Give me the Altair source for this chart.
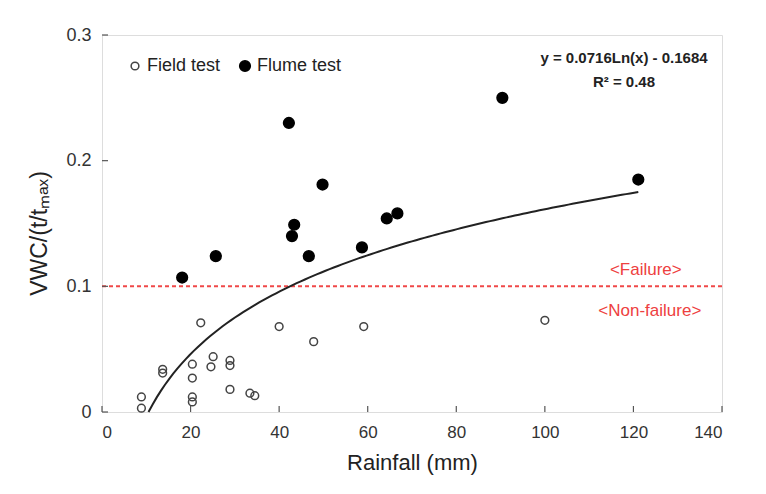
import altair as alt
import pandas as pd
import numpy as np

# ---- data ----
field_x = [8.9, 8.9, 13.7, 13.7, 20.4, 20.4, 20.4, 20.4, 22.3, 24.6, 25.1, 28.9, 28.9, 28.9, 33.4, 34.5, 40.0, 47.8, 59.1, 100.0]
field_y = [0.012, 0.003, 0.034, 0.031, 0.038, 0.027, 0.012, 0.008, 0.071, 0.036, 0.044, 0.041, 0.037, 0.018, 0.015, 0.013, 0.068, 0.056, 0.068, 0.073]
flume_x = [18.1, 25.7, 42.2, 42.9, 43.4, 46.7, 49.8, 58.7, 64.3, 66.7, 90.4, 121.1]
flume_y = [0.107, 0.124, 0.230, 0.140, 0.149, 0.124, 0.181, 0.131, 0.154, 0.158, 0.250, 0.185]
x_ticks = [0, 20, 40, 60, 80, 100, 120, 140]
y_ticks = [0, 0.1, 0.2, 0.3]
fit_a, fit_b = 0.0716, -0.1684   # y = a Ln(x) + b (printed on chart)
fit_x_start, fit_x_end = 10.5, 121.1
threshold = 0.1

W, H = 620, 377
FONT = "Liberation Sans"

pts = pd.DataFrame({
    "x": field_x + flume_x,
    "y": field_y + flume_y,
    "Test": ["Field test"] * len(field_x) + ["Flume test"] * len(flume_x),
})

curve_x = np.linspace(fit_x_start, fit_x_end, 120)
curve = pd.DataFrame({"x": curve_x, "y": fit_a * np.log(curve_x) + fit_b})

xs = alt.Scale(domain=[0, 140], nice=False, zero=False)
ys = alt.Scale(domain=[0, 0.3], nice=False, zero=False)

X = alt.X("x:Q", scale=xs, axis=alt.Axis(
    title="Rainfall (mm)", values=x_ticks, grid=False, ticks=False, domain=False,
    labelFontSize=17, labelColor="#333", labelFont=FONT, labelPadding=12,
    titleFontSize=22, titleFont=FONT, titleFontWeight="normal", titleColor="#222", titlePadding=12))
Y = alt.Y("y:Q", scale=ys, axis=alt.Axis(
    title="VWC/(t/tₘₐₓ)", values=y_ticks, grid=False, ticks=False, domain=False,
    labelFontSize=18, labelColor="#333", labelFont=FONT, labelPadding=11,
    labelExpr="datum.value == 0 ? '0' : format(datum.value, '.1f')",
    titleFontSize=23, titleFont=FONT, titleFontWeight="normal", titleColor="#222", titlePadding=14,
    titleY=198))

dom = ["Field test", "Flume test"]
leg = dict(orient="none", legendX=24, legendY=22, direction="horizontal", title=None)
points = alt.Chart(pts).mark_point(shape="circle", opacity=1, strokeWidth=1.5).encode(
    x=X, y=Y,
    fill=alt.Fill("Test:N", scale=alt.Scale(domain=dom, range=["transparent", "black"]),
                  legend=alt.Legend(labelFontSize=18, labelFont=FONT, labelColor="#222",
                                    symbolStrokeWidth=1.5, columnPadding=15, labelOffset=3, **leg)),
    stroke=alt.Stroke("Test:N", scale=alt.Scale(domain=dom, range=["#444", "black"]), legend=alt.Legend(**leg)),
    size=alt.Size("Test:N", scale=alt.Scale(domain=dom, range=[60, 115]), legend=alt.Legend(**leg)),
)

fit = alt.Chart(curve).mark_line(color="#222", strokeWidth=2).encode(x=alt.X("x:Q", scale=xs), y=alt.Y("y:Q", scale=ys))

thr = alt.Chart(pd.DataFrame({"y": [threshold]})).mark_rule(color="#f04848", strokeWidth=2, strokeDash=[4, 3]).encode(
    y=alt.Y("y:Q", scale=ys))

lab = pd.DataFrame({"x": [122.8, 123.7], "y": [0.113, 0.080], "t": ["<Failure>", "<Non-failure>"]})
labels = alt.Chart(lab).mark_text(color="#ee4040", fontSize=17, font=FONT).encode(
    x=alt.X("x:Q", scale=xs), y=alt.Y("y:Q", scale=ys), text="t:N")

eq = alt.Chart(pd.DataFrame({"t": ["y = 0.0716Ln(x) - 0.1684", "R² = 0.48"], "py": [23, 47]})).mark_text(
    fontSize=15, fontWeight="bold", font=FONT, color="#222").encode(
    x=alt.value(522), y=alt.Y("py:Q", scale=None), text="t:N")

xt = alt.Chart(pd.DataFrame({"x": x_ticks})).mark_rule(color="#555", strokeWidth=1.2).encode(
    x=alt.X("x:Q", scale=xs), y=alt.value(H), y2=alt.value(H - 6))
yt = alt.Chart(pd.DataFrame({"y": y_ticks})).mark_rule(color="#555", strokeWidth=1.2).encode(
    y=alt.Y("y:Q", scale=ys), x=alt.value(0), x2=alt.value(6))

chart = alt.layer(thr, fit, points, labels, eq, xt, yt).properties(
    width=W, height=H, autosize=alt.AutoSizeParams(type="none"),
    padding={"left": 94, "top": 27, "right": 30, "bottom": 76},
).configure_view(stroke="#555", strokeWidth=1.5).configure(background="white")

chart.save("out.html", embed_options={"renderer": "svg", "actions": False})
